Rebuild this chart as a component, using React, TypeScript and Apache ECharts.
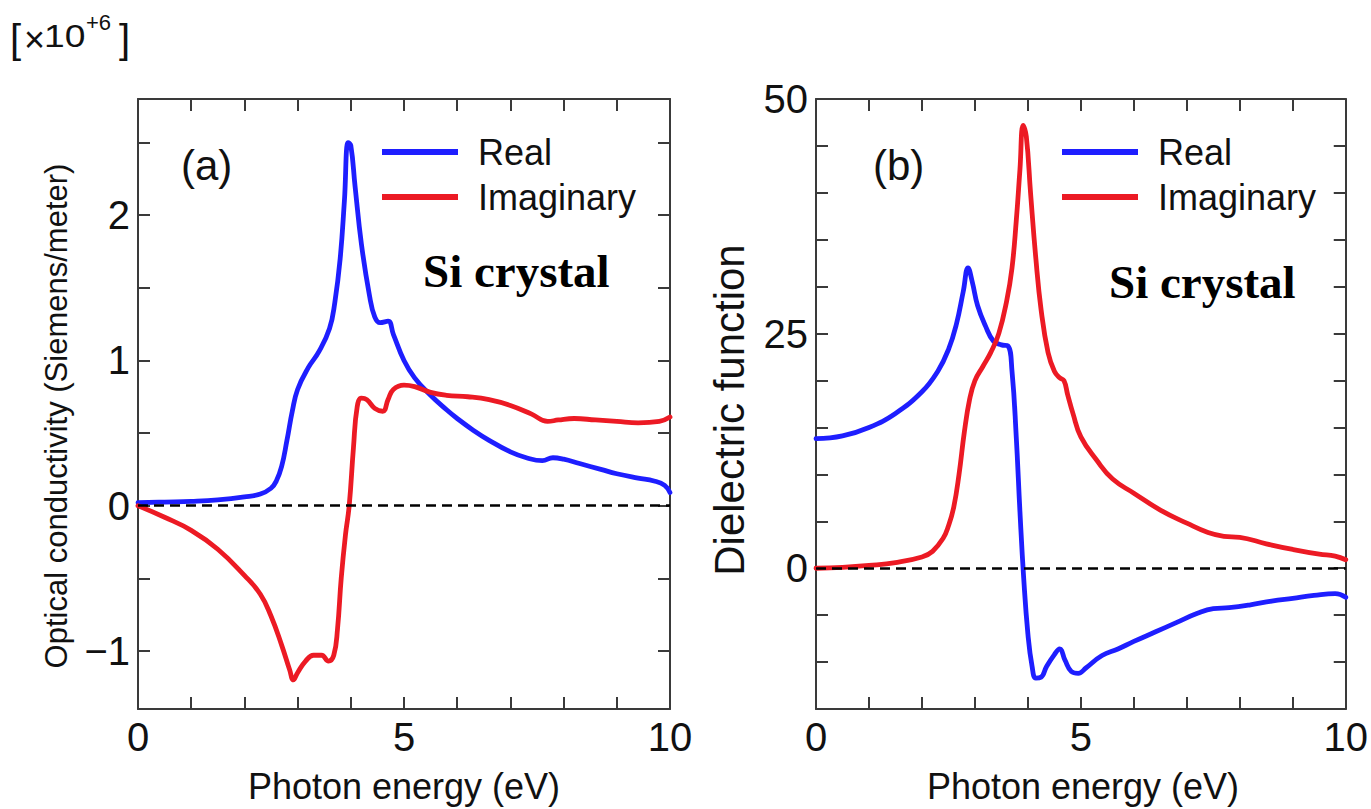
import React, { useEffect, useRef } from 'react';
import * as echarts from 'echarts';

// ---- Data: (a) optical conductivity, units of 10^6 S/m ----
const condRealX = [0, 0.5, 1, 1.5, 2, 2.3, 2.5, 2.6, 2.7, 2.8, 2.9, 3.0, 3.2, 3.4, 3.6, 3.7, 3.8, 3.88, 3.95, 4.0, 4.08, 4.2, 4.35, 4.45, 4.55, 4.7, 4.8, 5.0, 5.2, 5.5, 5.8, 6.0, 6.3, 6.6, 7.0, 7.3, 7.6, 7.8, 8.0, 8.3, 8.7, 9.0, 9.4, 9.7, 9.9, 10];
const condRealY = [0.02, 0.025, 0.03, 0.04, 0.06, 0.08, 0.12, 0.17, 0.27, 0.45, 0.65, 0.8, 0.95, 1.06, 1.22, 1.4, 1.7, 2.1, 2.5, 2.48, 2.2, 1.8, 1.45, 1.3, 1.26, 1.27, 1.18, 1.0, 0.88, 0.76, 0.66, 0.6, 0.52, 0.45, 0.37, 0.33, 0.31, 0.33, 0.32, 0.29, 0.25, 0.22, 0.19, 0.17, 0.14, 0.09];
const condImagX = [0, 0.5, 1, 1.5, 2, 2.3, 2.5, 2.7, 2.85, 2.92, 3.0, 3.15, 3.3, 3.45, 3.58, 3.68, 3.75, 3.82, 3.9, 3.97, 4.05, 4.12, 4.2, 4.3, 4.45, 4.6, 4.7, 4.8, 5.0, 5.2, 5.5, 5.8, 6.2, 6.6, 7.0, 7.4, 7.7, 7.9, 8.2, 8.6, 9.0, 9.4, 9.8, 10];
const condImagY = [0, -0.08, -0.17, -0.3, -0.48, -0.61, -0.76, -0.96, -1.13, -1.2, -1.15, -1.07, -1.03, -1.03, -1.07, -1.03, -0.85, -0.5, -0.2, 0.0, 0.4, 0.68, 0.74, 0.73, 0.67, 0.65, 0.73, 0.8, 0.83, 0.82, 0.78, 0.76, 0.75, 0.73, 0.69, 0.63, 0.58, 0.59, 0.6, 0.59, 0.58, 0.57, 0.58, 0.61];

// ---- Data: (b) dielectric function ----
const dielRealX = [0, 0.5, 1, 1.5, 2, 2.3, 2.5, 2.65, 2.78, 2.87, 2.95, 3.05, 3.2, 3.35, 3.5, 3.62, 3.7, 3.78, 3.85, 3.92, 4.0, 4.08, 4.15, 4.25, 4.35, 4.5, 4.6, 4.7, 4.82, 4.95, 5.1, 5.4, 5.7, 6.0, 6.4, 6.8, 7.2, 7.5, 7.8, 8.2, 8.6, 9.0, 9.4, 9.8, 10];
const dielRealY = [13.8, 14.1, 15, 16.5, 18.8, 21, 23.3, 26, 29.5, 32, 30.5, 28, 25.8, 24.2, 23.8, 23.7, 21, 14, 6, -1, -7, -10.5, -11.7, -11.6, -10.5, -9.2, -8.6, -9.8, -11, -11.2, -10.6, -9.3, -8.6, -7.8, -6.8, -5.8, -4.8, -4.3, -4.2, -3.9, -3.5, -3.2, -2.9, -2.7, -3.1];
const dielImagX = [0, 0.5, 1, 1.5, 2, 2.2, 2.4, 2.5, 2.6, 2.7, 2.8, 2.9, 3.0, 3.15, 3.3, 3.45, 3.6, 3.7, 3.78, 3.85, 3.91, 3.97, 4.05, 4.15, 4.25, 4.38, 4.5, 4.6, 4.68, 4.75, 4.85, 5.0, 5.3, 5.6, 6.0, 6.5, 7.0, 7.4, 7.7, 8.0, 8.5, 9.0, 9.5, 9.8, 10];
const dielImagY = [0, 0.1, 0.3, 0.6, 1.2, 1.8, 3.2, 4.5, 6.5, 10, 14.5, 18, 20, 21.5, 23, 25, 28.5, 32, 37, 42.5, 47.2, 46, 40, 33, 27.5, 23, 21, 20.3, 20, 18.5, 16.5, 14, 11.5, 9.5, 8, 6.2, 4.8, 3.8, 3.4, 3.3, 2.6, 2.0, 1.5, 1.3, 0.9];

// ---- Axis ticks / labels ----
const xLabelValues = [0, 5, 10];
const xTickValues = [1, 2, 3, 4, 5, 6, 7, 8, 9];
const condLabelValues = [-1, 0, 1, 2];
const condTickValues = [-1, -0.5, 0, 0.5, 1, 1.5, 2, 2.5];
const dielLabelValues = [0, 25, 50];
const dielTickValues = [-10, -5, 0, 5, 10, 15, 20, 25, 30, 35, 40, 45];
const seriesNames = ['Real', 'Imaginary'];

const BLUE = '#1e1eff';
const RED = '#ec1a24';
const FRAME = '#3a3a3a';
const SANS = '"Liberation Sans", Arial, sans-serif';
const SERIF = '"Liberation Serif", "Times New Roman", serif';

const zip = (xs: number[], ys: number[]) => xs.map((x, i) => [x, ys[i]]);
const fmt = (v: number) => (v < 0 ? '\u2212' + Math.abs(v) : String(v));

function xAxis(grid: number, position: string, showLabels: boolean) {
  return {
    gridIndex: grid,
    type: 'value',
    min: 0,
    max: 10,
    position,
    axisLine: { show: true, onZero: false, lineStyle: { color: FRAME, width: 2 } },
    axisTick: { show: true, inside: true, length: 12, customValues: xTickValues, lineStyle: { color: FRAME, width: 2 } },
    axisLabel: { show: showLabels, customValues: xLabelValues, fontSize: 40, fontFamily: SANS, color: '#111', margin: 8, formatter: fmt },
    splitLine: { show: false },
  };
}

function yAxis(grid: number, position: string, showLabels: boolean, min: number, max: number, ticks: number[], labels: number[]) {
  return {
    gridIndex: grid,
    type: 'value',
    min,
    max,
    position,
    axisLine: { show: true, onZero: false, lineStyle: { color: FRAME, width: 2 } },
    axisTick: { show: true, inside: true, length: 12, customValues: ticks, lineStyle: { color: FRAME, width: 2 } },
    axisLabel: { show: showLabels, customValues: labels, fontSize: 40, fontFamily: SANS, color: '#111', margin: 8, formatter: fmt },
    splitLine: { show: false },
  };
}

function lineSeries(name: string, grid: number, xs: number[], ys: number[], color: string, withZero: boolean) {
  const s: any = {
    type: 'line',
    name,
    xAxisIndex: grid * 2,
    yAxisIndex: grid * 2,
    data: zip(xs, ys),
    showSymbol: false,
    symbol: 'none',
    smooth: 0.45,
    lineStyle: { color, width: 4.8, join: 'round', cap: 'round' },
    itemStyle: { color },
    z: 3,
  };
  if (withZero) {
    s.markLine = {
      silent: true,
      symbol: ['none', 'none'],
      label: { show: false },
      lineStyle: { color: '#000', width: 2.6, type: [10, 6] },
      data: [{ yAxis: 0 }],
      z: 6,
    };
  }
  return s;
}

function legend(left: number) {
  return {
    left,
    top: 134,
    orient: 'vertical',
    padding: 0,
    icon: 'rect',
    itemWidth: 76,
    itemHeight: 6,
    itemGap: 9,
    selectedMode: false,
    data: seriesNames,
    textStyle: { fontSize: 36, fontFamily: SANS, color: '#111', padding: [0, 0, 0, 15] },
  };
}

function txt(x: number, y: number, text: string, fontSize: number, extra: any = {}, scaleX = 1) {
  return {
    type: 'text',
    x,
    y,
    scaleX,
    style: { text, fontSize, fontFamily: SANS, fill: '#111', verticalAlign: 'middle', align: 'left', ...extra },
    z: 10,
  };
}

export default function App() {
  const ref = useRef<HTMLDivElement>(null);
  useEffect(() => {
    if (!ref.current) return;
    const chart = echarts.init(ref.current, null, { renderer: 'svg' });
    chart.setOption({
      animation: false,
      backgroundColor: '#fff',
      grid: [
        { left: 138, top: 99, width: 532, height: 610 },
        { left: 816, top: 99, width: 534, height: 610 },
      ],
      xAxis: [
        xAxis(0, 'bottom', true),
        xAxis(0, 'top', false),
        xAxis(1, 'bottom', true),
        xAxis(1, 'top', false),
      ],
      yAxis: [
        yAxis(0, 'left', true, -1.4, 2.8, condTickValues, condLabelValues),
        yAxis(0, 'right', false, -1.4, 2.8, condTickValues, condLabelValues),
        yAxis(1, 'left', true, -15, 50, dielTickValues, dielLabelValues),
        yAxis(1, 'right', false, -15, 50, dielTickValues, dielLabelValues),
      ],
      legend: [legend(382), legend(1062)],
      series: [
        lineSeries(seriesNames[0], 0, condRealX, condRealY, BLUE, true),
        lineSeries(seriesNames[1], 0, condImagX, condImagY, RED, false),
        lineSeries(seriesNames[0], 1, dielRealX, dielRealY, BLUE, true),
        lineSeries(seriesNames[1], 1, dielImagX, dielImagY, RED, false),
      ],
      graphic: [
        // multiplier
        txt(10, 39, '[', 40),
        txt(24, 39, '\u00d7', 36),
        txt(44, 36, '10', 31, {}, 1.2),
        txt(86, 22, '+6', 22),
        txt(119, 39, ']', 40),
        // panel tags
        txt(181, 165, '(a)', 42),
        txt(873, 165, '(b)', 42),
        // annotations
        txt(423, 271, 'Si crystal', 47, { fontFamily: SERIF, fontWeight: 'bold', fill: '#000' }),
        txt(1109, 282, 'Si crystal', 47, { fontFamily: SERIF, fontWeight: 'bold', fill: '#000' }),
        // axis titles
        {
          type: 'text', x: 56, y: 416, rotation: Math.PI / 2, z: 10,
          style: { text: 'Optical conductivity (Siemens/meter)', fontSize: 31, fontFamily: SANS, fill: '#111', align: 'center', verticalAlign: 'middle' },
        },
        {
          type: 'text', x: 729, y: 410, rotation: Math.PI / 2, z: 10,
          style: { text: 'Dielectric function', fontSize: 42, fontFamily: SANS, fill: '#111', align: 'center', verticalAlign: 'middle' },
        },
        txt(404, 786, 'Photon energy (eV)', 36, { align: 'center' }),
        txt(1083, 786, 'Photon energy (eV)', 36, { align: 'center' }),
      ],
    });
    return () => chart.dispose();
  }, []);
  return <div ref={ref} style={{ position: 'absolute', left: 0, top: 0, width: 1371, height: 809 }} />;
}
